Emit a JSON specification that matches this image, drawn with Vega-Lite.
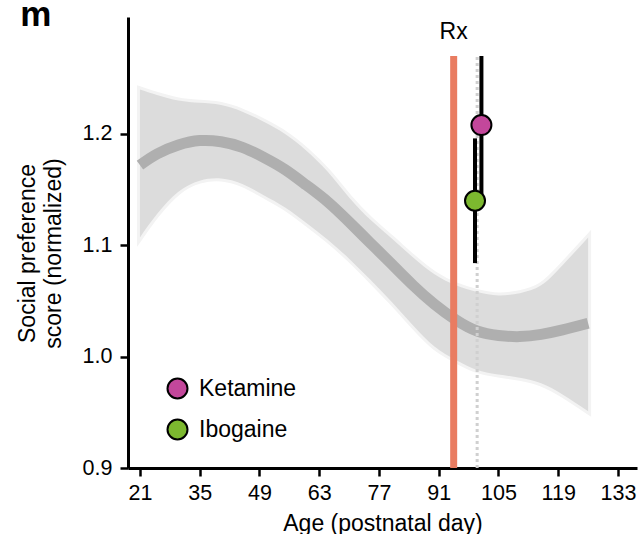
{
  "$schema": "https://vega.github.io/schema/vega-lite/v6.json",
  "width": 509,
  "height": 451,
  "autosize": {"type": "none"},
  "padding": {"left": 128, "top": 17, "right": 5, "bottom": 66},
  "background": "white",
  "config": {
    "view": {"stroke": null},
    "font": "Liberation Sans",
    "axis": {"grid": false, "domainColor": "black", "domainWidth": 3, "tickColor": "black", "tickWidth": 2.5, "tickSize": 8, "labelFont": "Liberation Sans", "labelFontSize": 21.5, "labelColor": "black", "titleFont": "Liberation Sans", "titleFontSize": 23, "titleFontWeight": "normal", "titleColor": "black"}
  },
  "datasets": {
    "curve": [
      {"x": 21, "mid": 1.172, "lo": 1.107, "hi": 1.240},
      {"x": 25, "mid": 1.182, "lo": 1.128, "hi": 1.235},
      {"x": 30, "mid": 1.190, "lo": 1.148, "hi": 1.230},
      {"x": 35, "mid": 1.194, "lo": 1.158, "hi": 1.228},
      {"x": 40, "mid": 1.193, "lo": 1.160, "hi": 1.226},
      {"x": 45, "mid": 1.188, "lo": 1.155, "hi": 1.220},
      {"x": 50, "mid": 1.179, "lo": 1.145, "hi": 1.211},
      {"x": 55, "mid": 1.168, "lo": 1.134, "hi": 1.200},
      {"x": 60, "mid": 1.154, "lo": 1.120, "hi": 1.185},
      {"x": 65, "mid": 1.139, "lo": 1.105, "hi": 1.166},
      {"x": 70, "mid": 1.121, "lo": 1.088, "hi": 1.143},
      {"x": 75, "mid": 1.102, "lo": 1.069, "hi": 1.123},
      {"x": 80, "mid": 1.083, "lo": 1.049, "hi": 1.106},
      {"x": 85, "mid": 1.064, "lo": 1.028, "hi": 1.089},
      {"x": 90, "mid": 1.047, "lo": 1.009, "hi": 1.074},
      {"x": 95, "mid": 1.033, "lo": 0.997, "hi": 1.064},
      {"x": 100, "mid": 1.023, "lo": 0.988, "hi": 1.058},
      {"x": 105, "mid": 1.019, "lo": 0.984, "hi": 1.055},
      {"x": 110, "mid": 1.018, "lo": 0.981, "hi": 1.057},
      {"x": 115, "mid": 1.020, "lo": 0.976, "hi": 1.064},
      {"x": 120, "mid": 1.024, "lo": 0.966, "hi": 1.082},
      {"x": 126, "mid": 1.030, "lo": 0.951, "hi": 1.107}
    ],
    "rx": [{"x": 94.5, "y1": 0.9, "y2": 1.27, "label": "Rx", "ty": 1.2856}],
    "ref": [{"x": 100, "y1": 0.9, "y2": 1.27}],
    "panel": [{"x": -3.4, "ty": 1.2967, "label": "m"}],
    "drugs": [
      {"drug": "Ketamine", "x": 101, "y": 1.208, "lo": 1.146, "hi": 1.270},
      {"drug": "Ibogaine", "x": 99.5, "y": 1.140, "lo": 1.084, "hi": 1.196}
    ]
  },
  "encoding": {
    "x": {"field": "x", "type": "quantitative", "scale": {"domain": [18.2, 137.45], "nice": false, "zero": false},
      "axis": {"values": [21, 35, 49, 63, 77, 91, 105, 119, 133], "labelPadding": 6, "titleY": 62, "titleBaseline": "alphabetic"},
      "title": "Age (postnatal day)"}
  },
  "layer": [
    {
      "data": {"name": "curve"},
      "mark": {"type": "area", "interpolate": "natural", "fill": "#f3f3f3", "stroke": "#f3f3f3", "strokeWidth": 6},
      "encoding": {
        "y": {"field": "lo", "type": "quantitative", "scale": {"domain": [0.9, 1.305], "nice": false, "zero": false},
          "axis": {"values": [0.9, 1.0, 1.1, 1.2], "format": ".1f", "labelPadding": 8, "titleAngle": -90, "titleX": -94, "titleY": 236, "titleAlign": "center", "titleBaseline": "alphabetic", "titleLineHeight": 26},
          "title": ["Social preference", "score (normalized)"]},
        "y2": {"field": "hi"}
      }
    },
    {
      "data": {"name": "curve"},
      "mark": {"type": "area", "interpolate": "natural", "fill": "#dcdcdc"},
      "encoding": {
        "y": {"field": "lo", "type": "quantitative", "title": ["Social preference", "score (normalized)"]},
        "y2": {"field": "hi"}
      }
    },
    {
      "data": {"name": "curve"},
      "mark": {"type": "line", "interpolate": "natural", "stroke": "#afafaf", "strokeWidth": 11, "strokeCap": "butt"},
      "encoding": {
        "y": {"field": "mid", "type": "quantitative", "title": ["Social preference", "score (normalized)"]}
      }
    },
    {
      "data": {"name": "rx"},
      "mark": {"type": "rule", "stroke": "#e97c61", "strokeWidth": 7},
      "encoding": {
        "y": {"field": "y1", "type": "quantitative", "title": ["Social preference", "score (normalized)"]},
        "y2": {"field": "y2"}
      }
    },
    {
      "data": {"name": "ref"},
      "mark": {"type": "rule", "stroke": "#d0d0d0", "strokeWidth": 3, "strokeDash": [3, 3]},
      "encoding": {
        "y": {"field": "y1", "type": "quantitative", "title": ["Social preference", "score (normalized)"]},
        "y2": {"field": "y2"}
      }
    },
    {
      "data": {"name": "drugs"},
      "mark": {"type": "rule", "stroke": "black", "strokeWidth": 4},
      "encoding": {
        "y": {"field": "lo", "type": "quantitative", "title": ["Social preference", "score (normalized)"]},
        "y2": {"field": "hi"}
      }
    },
    {
      "data": {"name": "drugs"},
      "mark": {"type": "point", "filled": true, "shape": "circle", "size": 400, "stroke": "black", "strokeWidth": 2, "opacity": 1},
      "encoding": {
        "y": {"field": "y", "type": "quantitative", "title": ["Social preference", "score (normalized)"]},
        "fill": {"field": "drug", "type": "nominal",
          "scale": {"domain": ["Ketamine", "Ibogaine"], "range": ["#c3479b", "#7cb82f"]},
          "legend": {"orient": "none", "legendX": 38, "legendY": 360, "title": null, "symbolType": "circle", "symbolSize": 400, "symbolStrokeColor": "black", "symbolStrokeWidth": 2, "symbolOpacity": 1, "labelFont": "Liberation Sans", "labelFontSize": 23, "labelColor": "black", "labelOffset": 10, "rowPadding": 12, "padding": 0}}
      }
    },
    {
      "data": {"name": "rx"},
      "mark": {"type": "text", "fontSize": 23, "font": "Liberation Sans", "color": "black", "align": "center", "baseline": "alphabetic"},
      "encoding": {
        "y": {"field": "ty", "type": "quantitative", "title": ["Social preference", "score (normalized)"]},
        "text": {"field": "label"}
      }
    },
    {
      "data": {"name": "panel"},
      "mark": {"type": "text", "fontSize": 35, "fontWeight": "bold", "font": "Liberation Sans", "color": "black", "align": "center", "baseline": "alphabetic"},
      "encoding": {
        "y": {"field": "ty", "type": "quantitative", "title": ["Social preference", "score (normalized)"]},
        "text": {"field": "label"}
      }
    }
  ]
}
